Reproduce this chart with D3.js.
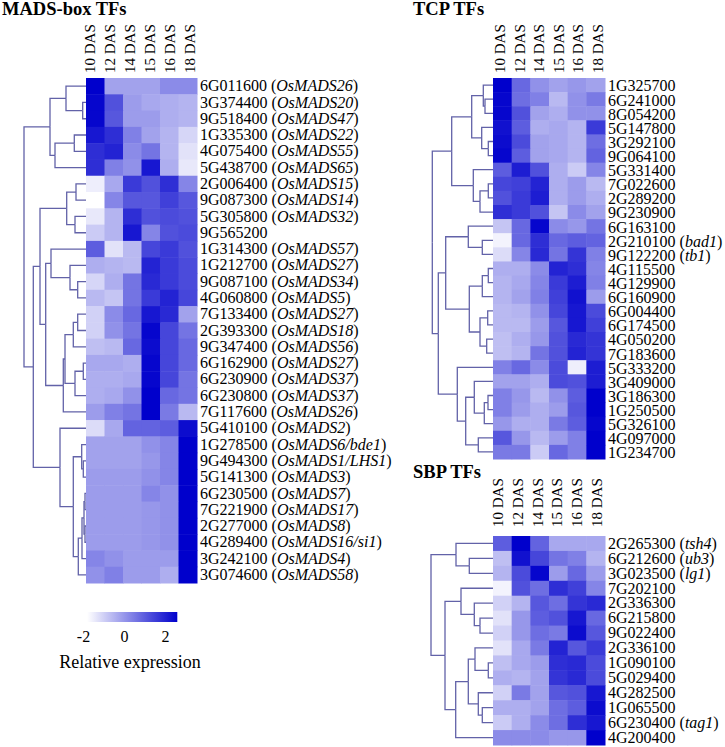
<!DOCTYPE html>
<html>
<head>
<meta charset="utf-8">
<script src="https://cdn.jsdelivr.net/npm/d3@7"></script>
<style>
body { margin: 0; background: #fff; }
text { font-family: "Liberation Serif", "Times New Roman", serif; fill: #000; }
</style>
</head>
<body>
<svg id="chart" width="725" height="747"></svg>
<script>
const days = ["10 DAS", "12 DAS", "14 DAS", "15 DAS", "16 DAS", "18 DAS"];

// MADS-box
const madsIds = ["6G011600", "3G374400", "9G518400", "1G335300", "4G075400", "5G438700",
  "2G006400", "9G087300", "5G305800", "9G565200", "1G314300", "1G212700", "9G087100",
  "4G060800", "7G133400", "2G393300", "9G347400", "6G162900", "6G230900", "6G230800",
  "7G117600", "5G410100", "1G278500", "9G494300", "5G141300", "6G230500", "7G221900",
  "2G277000", "4G289400", "3G242100", "3G074600"];
const madsGenes = ["OsMADS26", "OsMADS20", "OsMADS47", "OsMADS22", "OsMADS55", "OsMADS65",
  "OsMADS15", "OsMADS14", "OsMADS32", "", "OsMADS57", "OsMADS27", "OsMADS34",
  "OsMADS5", "OsMADS27", "OsMADS18", "OsMADS56", "OsMADS27", "OsMADS37", "OsMADS37",
  "OsMADS26", "OsMADS2", "OsMADS6/bde1", "OsMADS1/LHS1", "OsMADS3", "OsMADS7", "OsMADS17",
  "OsMADS8", "OsMADS16/si1", "OsMADS4", "OsMADS58"];
const madsValues = [
  [2.6, -0.2, -0.2, -0.2, 0.2, 0.2],
  [2.5, 1.2, -0.1, -0.3, -0.4, -0.5],
  [2.5, 1.1, -0.1, -0.1, -0.4, -0.5],
  [2.2, 1.8, 0.4, -0.2, -0.5, -1.1],
  [1.8, 2.0, 0.2, 0.6, -0.5, -1.3],
  [1.8, 0.4, 0.1, 2.2, -0.4, -1.4],
  [-1.5, -0.3, 1.6, 1.2, 1.8, 0.3],
  [-1.8, 0.3, 1.1, 1.1, 1.5, 1.1],
  [-1.4, -0.5, 1.8, 1.2, 1.3, 1.2],
  [-0.9, -0.5, 2.2, 0.3, 1.2, 1.3],
  [1.0, -1.3, -0.6, 1.4, 1.6, 1.2],
  [-0.4, -0.5, -0.6, 2.0, 1.6, 1.3],
  [-1.1, -0.4, 0.6, 1.9, 1.6, 1.3],
  [-0.6, -0.8, 0.6, 1.6, 2.0, 1.4],
  [-1.0, 0.2, 0.8, 2.2, 1.9, -0.2],
  [-1.0, 0.1, 0.6, 2.5, 1.4, 0.6],
  [-0.7, -0.6, 0.8, 2.4, 1.4, 0.8],
  [-0.3, -0.3, -0.4, 2.5, 1.4, 0.8],
  [-0.4, -0.4, -0.3, 2.5, 1.4, 0.6],
  [-0.4, -0.3, 0.1, 2.6, 0.8, 0.6],
  [-0.1, 0.4, 0.6, 2.6, 0.5, -0.6],
  [-1.2, -0.3, 0.9, 0.9, 1.0, 2.4],
  [-0.2, -0.2, -0.2, 0.1, 0.3, 2.6],
  [-0.2, -0.2, -0.2, 0.0, 0.3, 2.6],
  [-0.1, -0.1, -0.1, 0.1, 0.3, 2.6],
  [-0.1, -0.1, -0.1, 0.3, 0.1, 2.6],
  [-0.1, -0.1, -0.1, 0.0, 0.1, 2.6],
  [-0.1, -0.1, -0.1, 0.0, 0.1, 2.6],
  [-0.1, -0.1, -0.1, 0.0, 0.1, 2.6],
  [0.3, 0.1, -0.1, -0.1, -0.1, 2.6],
  [0.1, 0.4, -0.1, -0.1, -0.4, 2.6]
];
// tree nodes: [height, childA, childB], leaves = row index
const madsTree = [62,
  [36, [20, 0, [3.3, 1, 2]], [31, [11.7, 3, 4], 5]],
  [52.7,
    [46,
      [19.3, [10, 6, 7], [11, 8, 9]],
      [40.3,
        [35, 10, [16, 11, [8.3, 12, 13]]],
        [22.7, [21, [12.7, [8.3, 14, 15], 16], [11, [2.7, 17, 18], 19]], 20]]],
    [26, 21,
      [12.7, [4.3, 22, [2.7, 23, 24]], [7.7, [4, [2, [1, 25, 26], [1, 27, 28]], 29], 30]]]]];

// TCP
const tcpIds = ["1G325700", "6G241000", "8G054200", "5G147800", "3G292100", "9G064100",
  "5G331400", "7G022600", "2G289200", "9G230900", "6G163100", "2G210100", "9G122200",
  "4G115500", "4G129900", "6G160900", "6G004400", "6G174500", "4G050200", "7G183600",
  "5G333200", "3G409000", "3G186300", "1G250500", "5G326100", "4G097000", "1G234700"];
const tcpGenes = ["", "", "", "", "", "", "", "", "", "", "", "bad1", "tb1",
  "", "", "", "", "", "", "", "", "", "", "", "", "", ""];
const tcpValues = [
  [2.6, 0.8, 0.1, -0.2, 0.0, -0.2],
  [2.5, 0.7, 0.4, -0.6, 0.1, 0.5],
  [2.5, 1.2, -0.2, -0.4, 0.1, 0.1],
  [2.3, 1.0, -0.4, -0.3, -0.5, 1.6],
  [2.4, 1.3, -0.2, -0.3, -0.5, 0.7],
  [2.5, 1.0, -0.2, -0.3, -0.5, 0.9],
  [1.0, 2.1, 1.2, -0.4, -0.9, 0.3],
  [1.4, 1.5, 2.0, -0.4, -0.1, -0.6],
  [1.2, 1.6, 2.1, -0.4, -0.1, -0.4],
  [1.8, 1.6, 1.2, -0.8, 0.2, -0.2],
  [-0.8, 0.8, 2.5, 0.2, 0.0, 0.6],
  [-1.6, 0.8, 1.8, 0.8, 1.0, 0.9],
  [-1.2, 0.3, 1.9, 0.6, 1.7, 0.4],
  [-0.4, -0.4, 0.2, 2.0, 1.8, 0.3],
  [-0.5, -0.3, 0.3, 1.6, 2.1, 0.4],
  [-0.5, -0.2, 0.4, 1.5, 2.3, -0.1],
  [-0.6, -0.5, 0.1, 1.4, 2.2, 1.3],
  [-0.6, -0.6, -0.1, 1.1, 2.2, 1.5],
  [-0.7, -0.4, 0.0, 1.2, 1.9, 1.7],
  [-0.7, -0.5, 0.6, 1.2, 2.0, 1.7],
  [0.4, 0.8, 0.2, 1.3, -1.5, 2.1],
  [-0.2, -0.2, -0.4, 1.3, 1.2, 2.1],
  [0.4, 0.0, -0.6, 0.1, 1.0, 2.6],
  [0.4, -0.1, -0.4, -0.1, 1.1, 2.6],
  [0.0, -0.4, -0.4, 0.5, 1.0, 2.5],
  [1.1, 0.0, -0.6, -0.1, 0.4, 2.6],
  [0.5, 0.5, -0.9, 0.8, 0.4, 2.6]
];
const tcpTree = [60.7,
  [41.3,
    [21.3, [9.7, 0, [8, 1, 2]], [11.3, 3, [4.7, 4, 5]]],
    [19.7, 6, [13, [4.7, 7, 8], 9]]],
  [54.7,
    [47.3,
      [24.7, 10, [10.7, 11, 12]],
      [23.7, [10.7, [4.7, 13, 14], 15], [13, [5.3, 16, 17], [6.3, 18, 19]]]],
    [35.7, 20,
      [27.3, [18.7, 21, [8.7, [5, 22, 23], 24]], [14.7, 25, 26]]]]];

// SBP
const sbpIds = ["2G265300", "6G212600", "3G023500", "7G202100", "2G336300", "6G215800",
  "9G022400", "2G336100", "1G090100", "5G029400", "4G282500", "1G065500", "6G230400", "4G200400"];
const sbpGenes = ["tsh4", "ub3", "lg1", "", "", "", "", "", "", "", "", "", "tag1", ""];
const sbpValues = [
  [1.0, 2.6, 0.9, -0.3, -0.3, -0.3],
  [-0.7, 2.3, 1.4, 0.6, 0.4, -0.5],
  [-0.5, 1.3, 2.5, -0.1, 0.8, -0.1],
  [-1.6, 1.2, 0.7, 1.8, 1.5, 0.3],
  [-1.0, -0.5, 1.1, 0.7, 1.7, 1.9],
  [-1.3, 0.0, 1.0, 1.2, 2.2, 0.8],
  [-1.0, 0.0, 0.7, 0.5, 2.4, 1.1],
  [-1.3, -0.3, 0.5, 2.0, 1.1, 1.6],
  [-0.7, -0.3, -0.1, 1.8, 1.9, 1.3],
  [-0.4, -0.5, -0.2, 1.7, 1.9, 1.3],
  [-1.0, 0.5, -0.2, 1.1, 1.2, 2.2],
  [-0.4, -0.4, -0.2, 0.7, 1.0, 2.4],
  [-0.9, -0.4, 0.2, 0.7, 1.8, 2.2],
  [0.2, 0.2, 0.2, 0.0, 0.0, 2.6]
];
const sbpTree = [62,
  [37, 0, [23.7, 1, 2]],
  [48,
    [32, 3, [18.7, 4, [13, 5, 6]]],
    [37.3, [24.7, [18, 7, [4.7, 8, 9]], [14.7, 10, [10.7, 11, 12]]], 13]]];

const legendTicks = [-2, 0, 2];
const colorDomain = [-1.8, 2.6];

const color = d3.scaleLinear().domain(colorDomain).range(["#ffffff", "#0000cc"]).clamp(true);
const lineColor = "#6262a8";

const svg = d3.select("#chart");

function drawPanel(p) {
  let g = svg.append("g");

  let y = d3.scaleBand().domain(d3.range(p.ids.length)).range([p.top, p.bottom]);
  let x = d3.scaleBand().domain(days).range([p.left, p.right]);
  let hx = d3.scaleBand().domain(days).range(p.headRange);

  let cells = p.values.flatMap((row, i) => row.map((v, j) => ({i: i, j: j, v: v})));

  g.selectAll("rect.cell")
    .data(cells)
    .join("rect")
    .attr("class", "cell")
    .attr("x", d => x(days[d.j]))
    .attr("y", d => y(d.i))
    .attr("width", x.bandwidth() + 0.5)
    .attr("height", y.bandwidth() + 0.5)
    .attr("fill", d => color(d.v));

  // column headers
  g.selectAll("text.head")
    .data(days)
    .join("text")
    .attr("class", "head")
    .attr("transform", d => "translate(" + (hx(d) + hx.bandwidth() / 2 + 5) + "," + p.headY + ") rotate(-90)")
    .style("font-size", "15px")
    .text(d => d);

  // row labels
  g.selectAll("text.row")
    .data(p.ids)
    .join("text")
    .attr("class", "row")
    .attr("x", p.right + 3)
    .attr("y", (d, i) => y(i) + y.bandwidth() / 2)
    .attr("dy", p.labelDy)
    .style("font-size", "16px")
    .each(function(d, i) {
      let t = d3.select(this);
      t.append("tspan").text(d);
      if (p.genes[i]) {
        t.append("tspan").text(" (");
        t.append("tspan").style("font-style", "italic").text(p.genes[i]);
        t.append("tspan").text(")");
      }
    });

  // dendrogram
  let root = d3.hierarchy(p.tree, d => Array.isArray(d) ? d.slice(1) : null);
  let dx = d3.scaleLinear().domain([0, p.tree[0]]).range([p.left, p.rootX]);

  root.eachAfter(n => {
    if (!n.children) {
      n.px = p.left;
      n.py = y(n.data) + y.bandwidth() / 2;
    } else {
      n.px = dx(n.data[0]);
      n.py = (n.children[0].py + n.children[n.children.length - 1].py) / 2;
    }
  });

  g.selectAll("path.link")
    .data(root.descendants().filter(n => n.parent))
    .join("path")
    .attr("class", "link")
    .attr("d", n => "M" + n.px + "," + n.py + "H" + n.parent.px + "V" + n.parent.py)
    .attr("fill", "none")
    .attr("stroke", lineColor)
    .attr("stroke-width", 1.3);

  // title
  svg.append("text")
    .attr("x", p.titleX)
    .attr("y", p.titleY)
    .style("font-size", "18.5px")
    .style("font-weight", "bold")
    .text(p.title);
}

drawPanel({
  ids: madsIds, genes: madsGenes, values: madsValues, tree: madsTree,
  left: 86, right: 197, top: 78, bottom: 583, rootX: 24,
  headRange: [80, 200], headY: 73, labelDy: "0.32em",
  title: "MADS-box TFs", titleX: 2, titleY: 15
});

drawPanel({
  ids: tcpIds, genes: tcpGenes, values: tcpValues, tree: tcpTree,
  left: 493, right: 605, top: 78, bottom: 459, rootX: 432.3,
  headRange: [490.3, 607.3], headY: 73, labelDy: "0.4em",
  title: "TCP TFs", titleX: 413, titleY: 15
});

drawPanel({
  ids: sbpIds, genes: sbpGenes, values: sbpValues, tree: sbpTree,
  left: 493, right: 605, top: 536, bottom: 745, rootX: 431,
  headRange: [488.5, 606.7], headY: 527, labelDy: "0.33em",
  title: "SBP TFs", titleX: 413, titleY: 478
});

// legend
let lx = d3.scaleLinear().domain([-2, 2]).range([83, 165]);

let grad = svg.append("defs").append("linearGradient")
  .attr("id", "legend-grad");
grad.selectAll("stop")
  .data(d3.range(0, 1.01, 0.1))
  .join("stop")
  .attr("offset", d => d)
  .attr("stop-color", d => color(colorDomain[0] + d * (colorDomain[1] - colorDomain[0])));

svg.append("rect")
  .attr("x", lx(colorDomain[0]))
  .attr("y", 612)
  .attr("width", lx(colorDomain[1]) - lx(colorDomain[0]))
  .attr("height", 10)
  .attr("fill", "url(#legend-grad)");

let legendAxis = svg.append("g")
  .attr("transform", "translate(0,631)")
  .call(d3.axisBottom(lx).tickValues(legendTicks).tickSize(0).tickPadding(0).tickFormat(d => String(d)));
legendAxis.select(".domain").remove();
legendAxis.selectAll("text")
  .style("font-size", "16px")
  .style("font-family", "'Liberation Serif', 'Times New Roman', serif")
  .attr("fill", "#000");

svg.append("text")
  .attr("x", 130)
  .attr("y", 668)
  .attr("text-anchor", "middle")
  .style("font-size", "18px")
  .text("Relative expression");
</script>
</body>
</html>
